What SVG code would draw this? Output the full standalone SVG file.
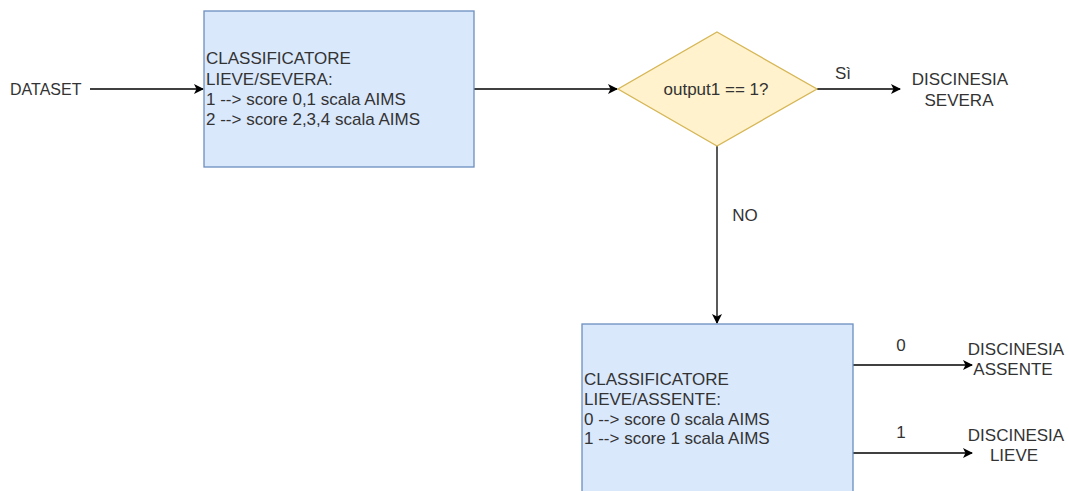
<svg xmlns="http://www.w3.org/2000/svg" width="1069" height="491" viewBox="0 0 1069 491">
<style>
text{font-family:"Liberation Sans",Arial,sans-serif;font-size:17px;fill:#333333}
.c{text-anchor:middle}
.box{fill:#dae8fc;stroke:#6c8ebf;stroke-width:1.3}
.dia{fill:#fff2cc;stroke:#d6b656;stroke-width:1.3}
.edge{fill:none;stroke:#000;stroke-width:1.3}
</style>
<defs>
<marker id="arr" viewBox="0 0 10 10" refX="9" refY="5" markerWidth="10" markerHeight="10" markerUnits="userSpaceOnUse" orient="auto">
<path d="M0,0 L10,5 L0,10 L2.5,5 Z" fill="#000"/>
</marker>
</defs>
<rect width="1069" height="491" fill="#ffffff"/>
<g id="connectors">
<line class="edge" x1="90" y1="89" x2="203" y2="89" marker-end="url(#arr)"/>
<line class="edge" x1="474" y1="89" x2="617" y2="89" marker-end="url(#arr)"/>
<line class="edge" x1="817" y1="89" x2="900" y2="89" marker-end="url(#arr)"/>
<line class="edge" x1="717" y1="146" x2="717" y2="323" marker-end="url(#arr)"/>
<line class="edge" x1="853" y1="365" x2="972" y2="365" marker-end="url(#arr)"/>
<line class="edge" x1="853" y1="453" x2="972" y2="453" marker-end="url(#arr)"/>
<text class="c" x="843" y="79">Sì</text>
<text class="c" x="745" y="221">NO</text>
<text class="c" x="901" y="351">0</text>
<text class="c" x="901" y="438">1</text>
</g>
<g id="dataset">
<text x="10" y="95" style="font-size:16px">DATASET</text>
</g>
<g id="classificatore1">
<rect class="box" x="204" y="11" width="270" height="156"/>
<text x="206" y="64">CLASSIFICATORE</text>
<text x="206" y="85">LIEVE/SEVERA:</text>
<text x="206" y="105">1 --&gt; score 0,1 scala AIMS</text>
<text x="206" y="125">2 --&gt; score 2,3,4 scala AIMS</text>
</g>
<g id="decision">
<polygon class="dia" points="717,32 817,89 717,146 618,89"/>
<text class="c" x="716" y="95">output1 == 1?</text>
</g>
<g id="severa">
<text class="c" x="960" y="85">DISCINESIA</text>
<text class="c" x="959" y="106">SEVERA</text>
</g>
<g id="classificatore2">
<rect class="box" x="582" y="324" width="271" height="180"/>
<text x="584" y="385">CLASSIFICATORE</text>
<text x="584" y="405">LIEVE/ASSENTE:</text>
<text x="584" y="425">0 --&gt; score 0 scala AIMS</text>
<text x="584" y="444">1 --&gt; score 1 scala AIMS</text>
</g>
<g id="assente">
<text class="c" x="1016" y="355">DISCINESIA</text>
<text class="c" x="1013" y="375">ASSENTE</text>
</g>
<g id="lieve">
<text class="c" x="1016" y="441">DISCINESIA</text>
<text class="c" x="1014" y="461">LIEVE</text>
</g>
</svg>
